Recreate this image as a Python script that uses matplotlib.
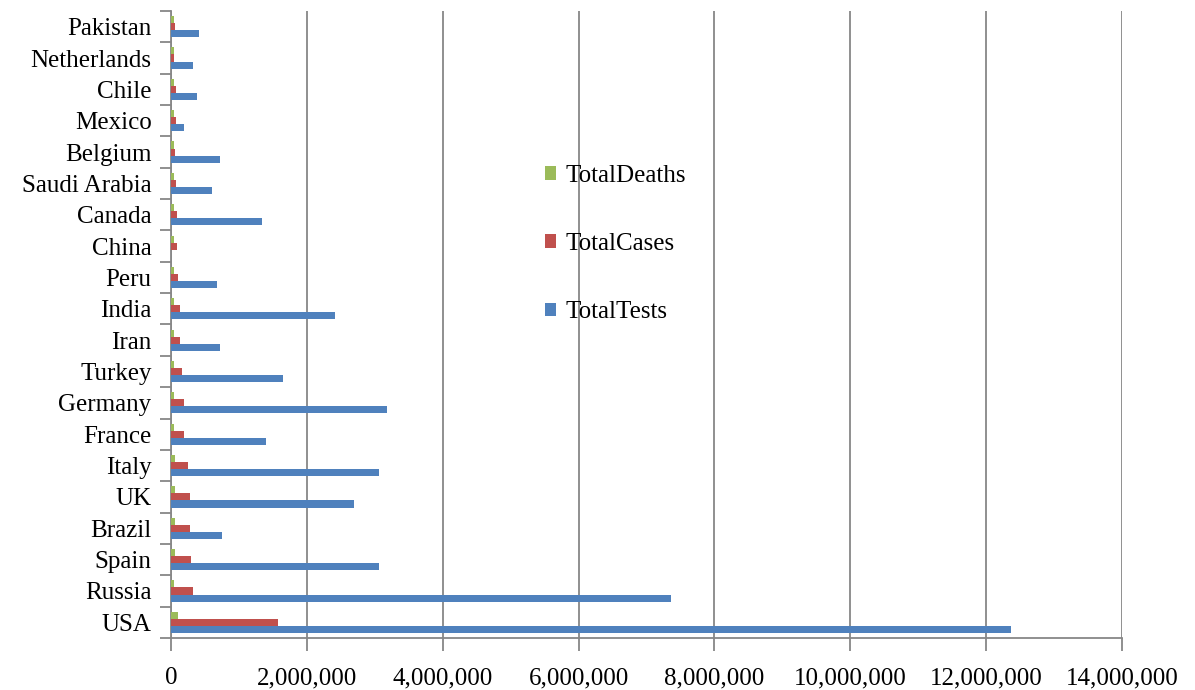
import matplotlib
matplotlib.use("Agg")
import matplotlib.pyplot as plt
from matplotlib.ticker import FuncFormatter, FixedLocator
import numpy as np

countries = ["USA", "Russia", "Spain", "Brazil", "UK", "Italy", "France", "Germany",
             "Turkey", "Iran", "India", "Peru", "China", "Canada", "Saudi Arabia",
             "Belgium", "Mexico", "Chile", "Netherlands", "Pakistan"]
total_tests = [12360000, 7360000, 3060000, 750000, 2700000, 3060000, 1400000, 3180000,
               1650000, 720000, 2420000, 670000, 0, 1340000, 610000,
               720000, 190000, 380000, 330000, 410000]
total_cases = [1580000, 330000, 300000, 275000, 275000, 245000, 190000, 190000,
               160000, 135000, 135000, 105000, 85000, 90000, 80000,
               60000, 70000, 70000, 50000, 60000]
total_deaths = [100000, 50000, 52000, 52000, 55000, 52000, 50000, 48000,
                45000, 45000, 45000, 45000, 45000, 45000, 42000,
                45000, 45000, 42000, 42000, 42000]

blue = "#4F81BD"
red = "#C0504D"
green = "#9BBB59"
grid_grey = "#878787"

plt.rcParams["font.family"] = ["Liberation Serif", "DejaVu Serif"]

fig = plt.figure(figsize=(11.95, 6.90), dpi=100)
ax = fig.add_axes([171 / 1195, 1 - 638 / 690, (1122 - 171) / 1195, (638 - 11) / 690])

y = np.arange(len(countries))
h = 0.225
ax.barh(y - h, total_tests, height=h, color=blue, label="TotalTests", zorder=3)
ax.barh(y, total_cases, height=h, color=red, label="TotalCases", zorder=3)
ax.barh(y + h, total_deaths, height=h, color=green, label="TotalDeaths", zorder=3)

ax.set_xlim(0, 14000000)
ax.set_ylim(-0.5, len(countries) - 0.5)

ax.xaxis.set_major_locator(FixedLocator(np.arange(0, 14000001, 2000000)))
ax.xaxis.set_major_formatter(FuncFormatter(lambda v, p: f"{int(v):,}"))
ax.grid(axis="x", color=grid_grey, linewidth=1.3, zorder=0)
ax.tick_params(axis="x", direction="out", length=9, width=1.3, color=grid_grey,
               pad=12, labelsize=18)

# category boundaries get tick marks, category centres get labels
ax.yaxis.set_major_locator(FixedLocator(np.arange(-0.5, len(countries), 1.0)))
ax.yaxis.set_major_formatter(FuncFormatter(lambda v, p: ""))
ax.yaxis.set_minor_locator(FixedLocator(y))
ax.set_yticklabels(countries, minor=True)
ax.tick_params(axis="y", which="major", direction="out", length=8, width=1.3,
               color=grid_grey)
ax.tick_params(axis="y", which="minor", length=0, pad=14, labelsize=18)

for side in ("top", "right"):
    ax.spines[side].set_visible(False)
for side in ("left", "bottom"):
    ax.spines[side].set_color(grid_grey)
    ax.spines[side].set_linewidth(1.3)
    ax.spines[side].set_zorder(1)

handles, labels = ax.get_legend_handles_labels()
leg = fig.legend(handles[::-1], labels[::-1], loc="center left",
                 bbox_to_anchor=(522 / 1195, 1 - 244 / 690), frameon=False,
                 fontsize=18, labelspacing=1.85, handlelength=0.45,
                 handleheight=0.45, handletextpad=0.4)

fig.savefig("out.png", dpi=100, facecolor="white")
